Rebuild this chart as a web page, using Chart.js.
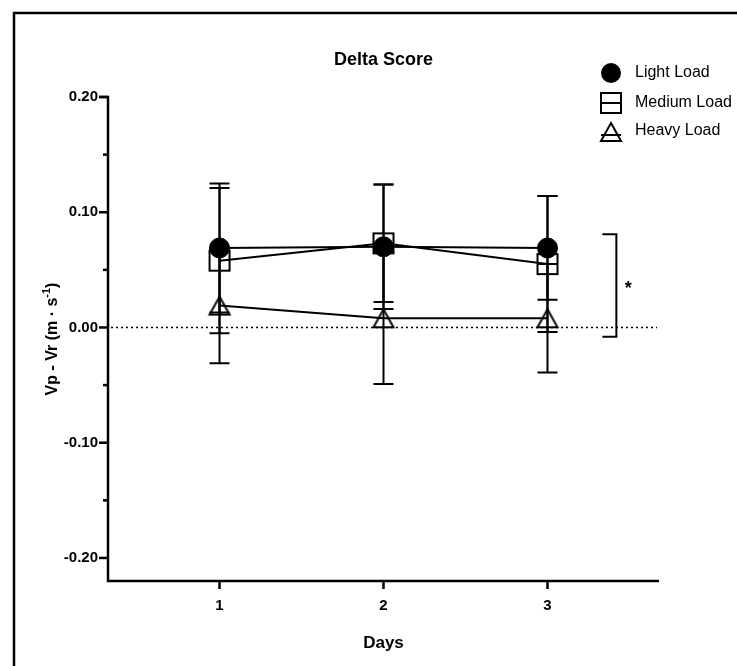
<!DOCTYPE html>
<html><head><meta charset="utf-8">
<script src="https://cdn.jsdelivr.net/npm/chart.js@4"></script>
<style>html,body{margin:0;padding:0;background:#fff;}</style>
</head><body>
<canvas id="c" width="737" height="666"></canvas>
<script>
// ---- data ----
const days = [1, 2, 3];
const seriesNames = ['Light Load', 'Medium Load', 'Heavy Load'];
const lightMean = [0.069, 0.070, 0.069];
const lightSD = [0.056, 0.054, 0.045];
const mediumMean = [0.058, 0.073, 0.055];
const mediumSD = [0.063, 0.051, 0.059];
const heavyMean = [0.019, 0.008, 0.008];
const heavySD = [0.050, 0.057, 0.047];
const yTicks = [-0.20, -0.10, 0.00, 0.10, 0.20];
const yMinorTicks = [-0.15, -0.05, 0.05, 0.15];
const refLine = [0];
const sigRange = [0.081, -0.008];
const sigLabel = '*';
const chartTitle = 'Delta Score';
const xTitle = 'Days';
const yTitleParts = ['Vp - Vr (m \u00B7 s', '-1', ')'];

const FONT = "'Liberation Sans', Arial, Helvetica, sans-serif";
Chart.defaults.font.family = FONT;
Chart.defaults.color = '#000';

function makeSquare() {
  const c = document.createElement('canvas'); c.width = 24; c.height = 24;
  const g = c.getContext('2d'); g.strokeStyle = '#000'; g.lineWidth = 2;
  g.strokeRect(2, 2, 20, 20); return c;
}
function makeTriangle() {
  const c = document.createElement('canvas'); c.width = 26; c.height = 26;
  const g = c.getContext('2d'); g.strokeStyle = '#000'; g.lineWidth = 2; g.lineJoin = 'miter';
  g.beginPath(); g.moveTo(13, 4); g.lineTo(23, 22); g.lineTo(3, 22); g.closePath(); g.stroke(); return c;
}
const sqImg = makeSquare();
const triImg = makeTriangle();

function pts(m) { return days.map((d, i) => ({ x: d, y: m[i] })); }

const datasets = [
  { label: seriesNames[0], data: pts(lightMean), sd: lightSD, pointStyle: 'circle', pointRadius: 10,
    pointBackgroundColor: '#000', pointBorderColor: '#000', pointBorderWidth: 1 },
  { label: seriesNames[1], data: pts(mediumMean), sd: mediumSD, pointStyle: sqImg, pointRadius: 10,
    pointBackgroundColor: 'rgba(0,0,0,0)', pointBorderColor: '#000' },
  { label: seriesNames[2], data: pts(heavyMean), sd: heavySD, pointStyle: triImg, pointRadius: 10,
    pointBackgroundColor: 'rgba(0,0,0,0)', pointBorderColor: '#000' }
].map(d => Object.assign({ borderColor: '#000', borderWidth: 2, fill: false, tension: 0, pointHoverRadius: 10 }, d));

const decor = {
  id: 'decor',
  beforeDraw(chart) {
    const ctx = chart.ctx;
    ctx.save();
    ctx.fillStyle = '#fff'; ctx.fillRect(0, 0, chart.width, chart.height);
    ctx.strokeStyle = '#000'; ctx.lineWidth = 2.5;
    ctx.strokeRect(14, 13, 900, 900);
    ctx.restore();
  },
  beforeDatasetsDraw(chart) {
    const { ctx, chartArea: a, scales: { x, y } } = chart;
    ctx.save();
    ctx.strokeStyle = '#000'; ctx.lineWidth = 1.5; ctx.setLineDash([2, 3]);
    refLine.forEach(v => {
      const py = y.getPixelForValue(v);
      ctx.beginPath(); ctx.moveTo(a.left + 3, py); ctx.lineTo(a.right - 2, py); ctx.stroke();
    });
    ctx.setLineDash([]);
    ctx.lineWidth = 2;
    chart.data.datasets.forEach(ds => {
      ds.data.forEach((p, i) => {
        const sd = ds.sd[i];
        const px = x.getPixelForValue(p.x);
        const t = y.getPixelForValue(p.y + sd), b = y.getPixelForValue(p.y - sd);
        ctx.beginPath();
        ctx.moveTo(px, t); ctx.lineTo(px, b);
        ctx.moveTo(px - 10, t); ctx.lineTo(px + 10, t);
        ctx.moveTo(px - 10, b); ctx.lineTo(px + 10, b);
        ctx.stroke();
      });
    });
    ctx.restore();
  },
  afterDraw(chart) {
    const { ctx, chartArea: a, scales: { x, y } } = chart;
    ctx.save();
    ctx.strokeStyle = '#000'; ctx.fillStyle = '#000';
    ctx.lineWidth = 2.5; ctx.lineJoin = 'miter'; ctx.lineCap = 'butt';
    ctx.beginPath();
    ctx.moveTo(a.left - 9, a.top); ctx.lineTo(a.left, a.top); ctx.lineTo(a.left, a.bottom); ctx.lineTo(a.right, a.bottom);
    ctx.stroke();
    yTicks.forEach(v => { const py = y.getPixelForValue(v); ctx.beginPath(); ctx.moveTo(a.left - 9, py); ctx.lineTo(a.left, py); ctx.stroke(); });
    yMinorTicks.forEach(v => { const py = y.getPixelForValue(v); ctx.beginPath(); ctx.moveTo(a.left - 5, py); ctx.lineTo(a.left, py); ctx.stroke(); });
    days.forEach(v => { const px = x.getPixelForValue(v); ctx.beginPath(); ctx.moveTo(px, a.bottom); ctx.lineTo(px, a.bottom + 8); ctx.stroke(); });
    ctx.lineWidth = 2;
    const bx = x.getPixelForValue(3.42);
    const bt = y.getPixelForValue(sigRange[0]), bb = y.getPixelForValue(sigRange[1]);
    ctx.beginPath(); ctx.moveTo(bx - 14, bt); ctx.lineTo(bx, bt); ctx.lineTo(bx, bb); ctx.lineTo(bx - 14, bb); ctx.stroke();
    ctx.font = 'bold 18px ' + FONT; ctx.textAlign = 'center'; ctx.textBaseline = 'middle';
    ctx.fillText(sigLabel, bx + 12, (bt + bb) / 2 + 4);
    ctx.font = 'bold 18px ' + FONT;
    ctx.fillText(chartTitle, (a.left + a.right) / 2, 60);
    ctx.font = 'bold 17px ' + FONT;
    ctx.fillText(xTitle, (a.left + a.right) / 2, 643);
    ctx.translate(53, (a.top + a.bottom) / 2);
    ctx.rotate(-Math.PI / 2);
    ctx.textAlign = 'left';
    const f1 = 'bold 16px ' + FONT, f2 = 'bold 11px ' + FONT;
    ctx.font = f1; const w1 = ctx.measureText(yTitleParts[0]).width; const w3 = ctx.measureText(yTitleParts[2]).width;
    ctx.font = f2; const w2 = ctx.measureText(yTitleParts[1]).width;
    let sx = -(w1 + w2 + w3) / 2;
    ctx.font = f1; ctx.fillText(yTitleParts[0], sx, 0); sx += w1;
    ctx.font = f2; ctx.fillText(yTitleParts[1], sx, -6); sx += w2;
    ctx.font = f1; ctx.fillText(yTitleParts[2], sx, 0);
    ctx.setTransform(1, 0, 0, 1, 0, 0);
    const lx = 611, rows = [73, 103, 131];
    ctx.lineWidth = 2;
    ctx.beginPath(); ctx.arc(lx, rows[0], 10, 0, Math.PI * 2); ctx.fill();
    ctx.strokeRect(lx - 10, rows[1] - 10, 20, 20);
    ctx.beginPath(); ctx.moveTo(lx - 10, rows[1]); ctx.lineTo(lx + 10, rows[1]); ctx.stroke();
    ctx.beginPath(); ctx.moveTo(lx, rows[2] - 8); ctx.lineTo(lx + 10, rows[2] + 10); ctx.lineTo(lx - 10, rows[2] + 10); ctx.closePath(); ctx.stroke();
    ctx.beginPath(); ctx.moveTo(lx - 10, rows[2] + 4); ctx.lineTo(lx + 10, rows[2] + 4); ctx.stroke();
    ctx.font = '16px ' + FONT; ctx.textAlign = 'left'; ctx.textBaseline = 'middle';
    seriesNames.forEach((n, i) => ctx.fillText(n, 635, rows[i]));
    ctx.restore();
  }
};

new Chart(document.getElementById('c'), {
  type: 'line',
  data: { datasets },
  options: {
    responsive: false, animation: false, events: [],
    layout: { padding: { top: 97, right: 78, left: 0, bottom: 0 } },
    plugins: { legend: { display: false }, title: { display: false }, tooltip: { enabled: false } },
    scales: {
      x: {
        type: 'linear', min: 0.32, max: 3.68,
        grid: { display: false, drawTicks: false }, border: { display: false },
        afterBuildTicks: s => { s.ticks = days.map(v => ({ value: v })); },
        afterFit: s => { s.height = 85; },
        ticks: { autoSkip: false, maxRotation: 0, padding: 16, color: '#000', font: { size: 15, weight: 'bold' }, callback: v => String(v) }
      },
      y: {
        type: 'linear', min: -0.22, max: 0.20,
        grid: { display: false, drawTicks: false }, border: { display: false },
        afterBuildTicks: s => { s.ticks = yTicks.map(v => ({ value: v })); },
        afterFit: s => { s.width = 108; },
        ticks: { autoSkip: false, padding: 10, color: '#000', font: { size: 15, weight: 'bold' }, callback: v => Number(v).toFixed(2) }
      }
    }
  },
  plugins: [decor]
});
</script>
</body></html>
